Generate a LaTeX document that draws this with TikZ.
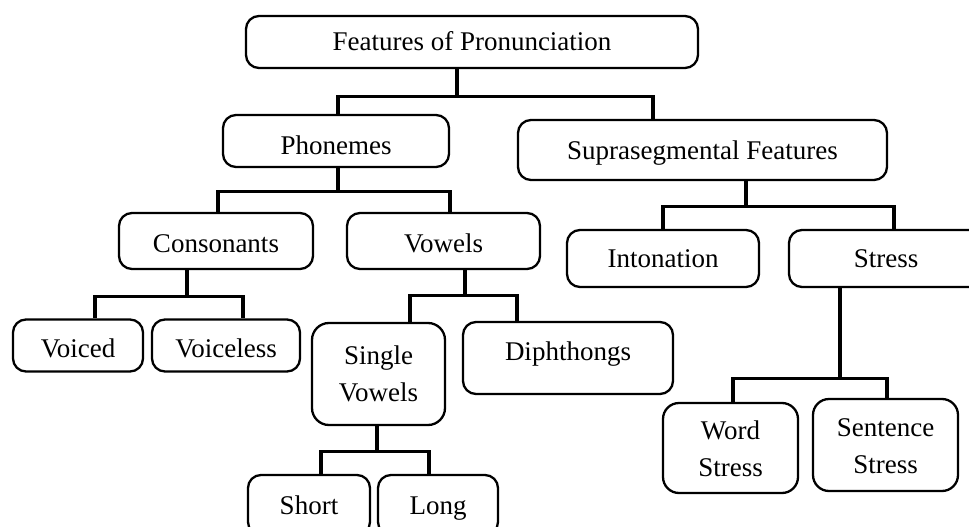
\documentclass[tikz,border=0pt]{standalone}
\usepackage{fontspec}
\setmainfont{Liberation Serif}
\begin{document}
\begin{tikzpicture}[x=1pt,y=-1pt,
  box/.style={draw=black, line width=2.3pt, rounded corners=13pt, fill=white,
    inner sep=0pt, align=center, font=\fontsize{27}{37}\selectfont},
  one/.style={text height=18pt, text depth=0pt},
  conn/.style={draw=black, line width=3.3pt}]
\path[use as bounding box] (0,0) rectangle (969,527);
\fill[white] (0,0) rectangle (969,527);
\clip (0,0) rectangle (969,527);

% tree nodes (centre, width, height)
\node[box, one, minimum width=452pt, minimum height=52pt] (root) at (472,42) {Features of Pronunciation};
\node[box, one, text height=26pt, minimum width=226pt, minimum height=52pt] (phon) at (336,141) {Phonemes};
\node[box, one, minimum width=369pt, minimum height=60pt] (supra) at (702.5,150) {Suprasegmental Features};
\node[box, one, text height=22pt, minimum width=194pt, minimum height=56pt] (cons) at (216,241) {Consonants};
\node[box, one, text height=22pt, minimum width=193pt, minimum height=56pt] (vow) at (443.5,241) {Vowels};
\node[box, one, minimum width=192pt, minimum height=57pt] (inton) at (663,258.5) {Intonation};
\node[box, one, minimum width=194pt, minimum height=57pt] (stress) at (886,258.5) {Stress};
\node[box, one, text height=24pt, minimum width=130pt, minimum height=52pt] (voiced) at (78,345.5) {Voiced};
\node[box, one, text height=24pt, minimum width=148pt, minimum height=52pt] (voiceless) at (226,345.5) {Voiceless};
\node[box, minimum width=133pt, minimum height=102pt, rounded corners=17pt] (single) at (378.5,374) {Single\\Vowels};
\node[box, one, text depth=14pt, minimum width=210pt, minimum height=72pt] (diph) at (568,358) {Diphthongs};
\node[box, minimum width=135pt, minimum height=90pt, rounded corners=16pt] (word) at (730.5,448) {\vphantom{g}\\[-30pt]Word\\Stress};
\node[box, minimum width=145pt, minimum height=92pt, rounded corners=16pt] (sent) at (885.5,445) {\vphantom{g}\\[-30pt]Sentence\\Stress};
\node[box, one, minimum width=122pt, minimum height=60pt] (short) at (309,505) {Short};
\node[box, one, minimum width=120pt, minimum height=60pt] (long) at (438,505) {Long};

% elbow connectors: stem down from the parent, along the bus, down to the child
\draw[conn] ([xshift=-15pt]root.south) -- ++(0,27) -| ([xshift=2pt]phon.north);
\draw[conn] ([xshift=-15pt]root.south) -- ++(0,27) -| ([xshift=-49.5pt]supra.north);

\draw[conn] ([xshift=2pt]phon.south) -- ++(0,23) -| ([xshift=2pt]cons.north);
\draw[conn] ([xshift=2pt]phon.south) -- ++(0,23) -| ([xshift=6.5pt]vow.north);

\draw[conn] ([xshift=43.5pt]supra.south) -- ++(0,25) -| (inton.north);
\draw[conn] ([xshift=43.5pt]supra.south) -- ++(0,25) -| ([xshift=8pt]stress.north);

\draw[conn] ([xshift=-29pt]cons.south) -- ++(0,26) -| ([xshift=17pt]voiced.north);
\draw[conn] ([xshift=-29pt]cons.south) -- ++(0,26) -| ([xshift=17pt]voiceless.north);

\draw[conn] ([xshift=21.5pt]vow.south) -- ++(0,25) -| ([xshift=31.5pt]single.north);
\draw[conn] ([xshift=21.5pt]vow.south) -- ++(0,25) -| ([xshift=-51pt]diph.north);

\draw[conn] ([xshift=-1.5pt]single.south) -- ++(0,25) -| ([xshift=12pt]short.north);
\draw[conn] ([xshift=-1.5pt]single.south) -- ++(0,25) -| ([xshift=-9pt]long.north);

\draw[conn] ([xshift=-46pt]stress.south) -- ++(0,90) -| ([xshift=2.5pt]word.north);
\draw[conn] ([xshift=-46pt]stress.south) -- ++(0,90) -| ([xshift=1.5pt]sent.north);
\end{tikzpicture}
\end{document}
